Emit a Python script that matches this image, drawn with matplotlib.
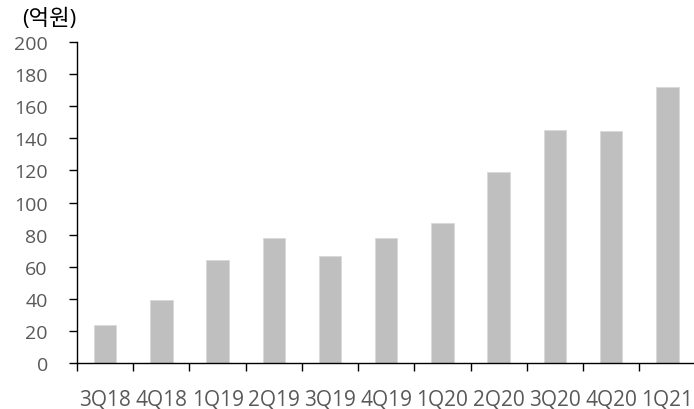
import numpy as np
import matplotlib.pyplot as plt

plt.rcParams['font.family'] = ['Open Sans', 'Noto Sans CJK KR', 'DejaVu Sans']

quarters = ['3Q18', '4Q18', '1Q19', '2Q19', '3Q19', '4Q19', '1Q20', '2Q20', '3Q20', '4Q20', '1Q21']
values = [24, 39, 64, 78, 66.5, 78, 87.5, 119, 145, 144.5, 172]
yticks = list(range(0, 201, 20))

fig = plt.figure(figsize=(6.94, 4.10), dpi=100)
ax = fig.add_axes([0.111, 0.112, 0.891, 0.783])

x = np.arange(len(quarters))
ax.bar(x, values, width=0.4, color='#bfbfbf', edgecolor='#d9d9d9', linewidth=0.6)

ax.set_xlim(-0.5, len(quarters) - 0.5)
ax.set_ylim(0, 200)
ax.set_yticks(yticks)
ax.set_yticklabels([str(v) for v in yticks])

# ticks between categories, labels centred under bars
ax.set_xticks(np.arange(-0.5, len(quarters) - 0.5, 1))
ax.set_xticklabels([])
ax.set_xticks(x, minor=True)
ax.set_xticklabels(quarters, minor=True)
ax.tick_params(axis='x', which='major', length=6, width=1, direction='out', color='black')
ax.tick_params(axis='x', which='minor', length=0, pad=18, labelsize=15, labelcolor='#595959')
ax.tick_params(axis='y', length=6, width=1, direction='out', pad=15, labelsize=14, labelcolor='#595959')

for s in ['top', 'right']:
    ax.spines[s].set_visible(False)
for s in ['left', 'bottom']:
    ax.spines[s].set_color('black')
    ax.spines[s].set_linewidth(1)

fig.text(0.032, 0.953, '(억원)', fontsize=16, color='black', va='center', ha='left')

fig.savefig('out.png', dpi=100)
